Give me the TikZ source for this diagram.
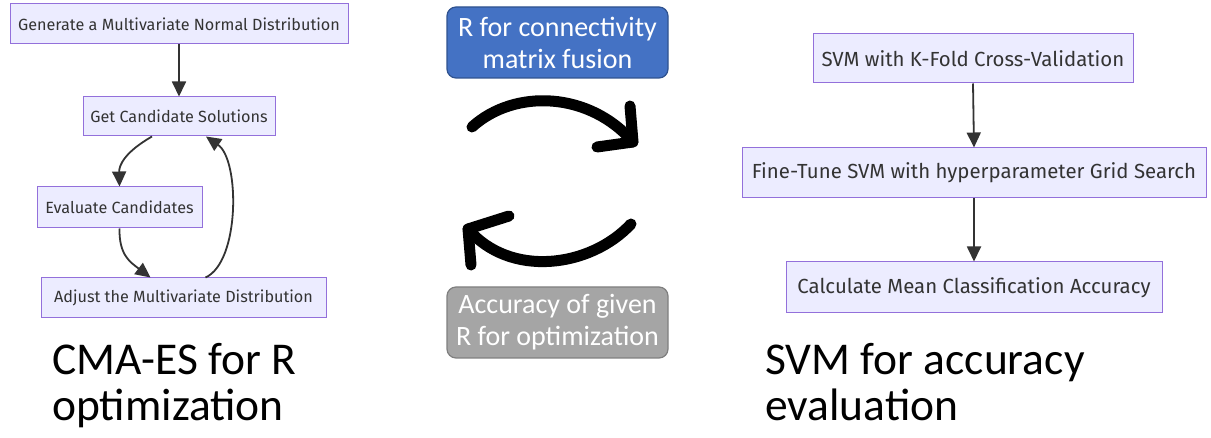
\documentclass[tikz,border=0pt]{standalone}
\usepackage{fontspec}
\setmainfont{Carlito}
\newfontfamily\mmfont{Fira Sans}
\usetikzlibrary{arrows.meta}
\definecolor{mmfill}{HTML}{ECECFF}
\definecolor{mmborder}{HTML}{9370DB}
\definecolor{mmtext}{HTML}{333333}
\definecolor{boxblue}{HTML}{4472C4}
\definecolor{boxblueline}{HTML}{2F528F}
\definecolor{boxgray}{HTML}{A5A5A5}
\definecolor{boxgrayline}{HTML}{7F7F7F}
\tikzset{
  mmnode/.style={draw=mmborder, fill=mmfill, line width=1pt, text=mmtext, inner sep=0pt, font=\mmfont\fontsize{16.2}{19}\selectfont},
  mmbig/.style={mmnode, font=\mmfont\fontsize{20.4}{23}\selectfont},
  mmarrow/.style={draw=mmtext, line width=1.8pt, -{Triangle[length=15pt,width=14pt]}},
  pptbox/.style={rounded corners=9pt, line width=1.2pt, text=white, align=center, font=\fontsize{28}{32}\selectfont, inner sep=0pt},
  bigarrow/.style={line width=11pt, line cap=round, line join=round, black},
  biglabel/.style={anchor=north west, align=left, inner sep=0pt, font=\fontsize{45.5}{46}\selectfont}
}
\begin{document}
\begin{tikzpicture}[x=1pt,y=-1pt]
\useasboundingbox (0,0) rectangle (1211,438);
% left flowchart
\node[mmnode, minimum width=338pt, minimum height=40pt] (gen) at (179,24) {Generate a Multivariate Normal Distribution};
\node[mmnode, minimum width=192pt, minimum height=39pt] (get) at (179,116.5) {Get Candidate Solutions};
\node[mmnode, minimum width=165pt, minimum height=41pt] (eval) at (119.5,207.5) {Evaluate Candidates};
\node[mmnode, minimum width=285pt, minimum height=40pt] (adj) at (183.5,298) {Adjust the Multivariate Distribution};
\draw[mmarrow] (gen.south) -- (get.north);
\draw[mmarrow] ([xshift=-27pt]get.south) .. controls (125,152) and (119,165) .. (eval.north);
\draw[mmarrow] (eval.south) .. controls (119,255) and (130,262) .. ([xshift=-33pt]adj.north);
\draw[mmarrow] ([xshift=22pt]adj.north) .. controls (240,262) and (240,160) .. ([xshift=27pt]get.south);
% middle
\node[pptbox, draw=boxblueline, fill=boxblue, minimum width=221pt, minimum height=71pt] (rbox) at (557.5,42.5) {R for connectivity\\matrix fusion};
\node[pptbox, draw=boxgrayline, fill=boxgray, minimum width=221pt, minimum height=71pt] (abox) at (557.5,322.5) {Accuracy of given\\R for optimization};
\coordinate (t1) at (472,127);
\coordinate (t2) at (633,142);
\coordinate (t3) at (630,106);
\coordinate (t4) at (597,147);
\draw[bigarrow] (t1) .. controls (515,88) and (590,92) .. (t2);
\draw[bigarrow] (t3) -- (t2) -- (t4);
\coordinate (b1) at (631,224);
\coordinate (b2) at (468,229);
\coordinate (b3) at (509,216);
\coordinate (b4) at (471,265);
\draw[bigarrow] (b1) .. controls (590,268) and (510,278) .. (b2);
\draw[bigarrow] (b3) -- (b2) -- (b4);
% right flowchart
\node[mmbig, minimum width=320pt, minimum height=49pt] (svm) at (973,58.5) {SVM with K-Fold Cross-Validation};
\node[mmbig, minimum width=464pt, minimum height=50pt] (fine) at (974,173) {Fine-Tune SVM with hyperparameter Grid Search};
\node[mmbig, minimum width=376pt, minimum height=51pt] (calc) at (974,287.5) {Calculate Mean Classification Accuracy};
\draw[mmarrow] (svm.south) -- (fine.north);
\draw[mmarrow] (fine.south) -- (calc.north);
% labels
\node[biglabel] (lab1) at (52,343) {CMA-ES for R\\optimization};
\node[biglabel] (lab2) at (765,343) {SVM for accuracy\\evaluation};
\end{tikzpicture}
\end{document}
